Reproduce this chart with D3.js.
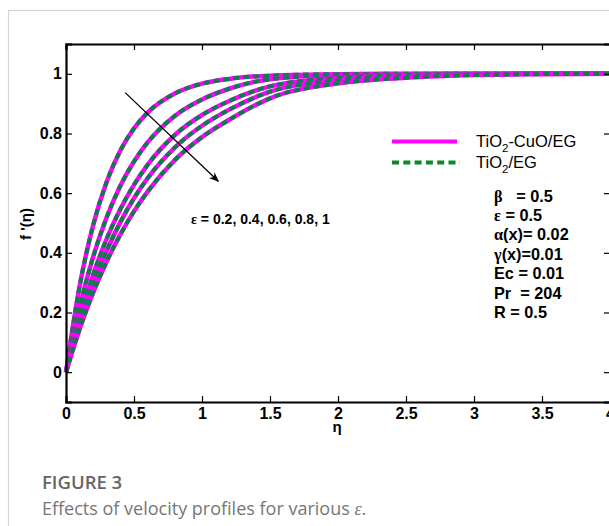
<!DOCTYPE html>
<html><head><meta charset="utf-8">
<script src="https://cdn.jsdelivr.net/npm/d3@7"></script>
<style>body{margin:0;background:#fff}svg{display:block}</style>
</head><body>
<svg id="c" width="609" height="526"></svg>
<script>
// ---- data ----
const eta = [0, 0.1, 0.2, 0.3, 0.4, 0.5, 0.6, 0.8, 1.0, 1.2, 1.5, 2.0, 2.5, 3.0, 3.5, 4.0];
const epsLabels = ["0.2", "0.4", "0.6", "0.8", "1"];
const fEps02 = [0, 0.288, 0.493, 0.639, 0.743, 0.817, 0.870, 0.934, 0.967, 0.983, 0.994, 0.999, 1.0, 1.0, 1.0, 1.0];
const fEps04 = [0, 0.217, 0.387, 0.520, 0.625, 0.706, 0.770, 0.859, 0.914, 0.950, 0.982, 0.996, 0.999, 1.0, 1.0, 1.0];
const fEps06 = [0, 0.180, 0.327, 0.448, 0.547, 0.628, 0.695, 0.795, 0.862, 0.909, 0.958, 0.986, 0.995, 0.999, 1.0, 1.0];
const fEps08 = [0, 0.161, 0.295, 0.408, 0.503, 0.583, 0.650, 0.753, 0.826, 0.880, 0.940, 0.978, 0.992, 0.998, 1.0, 1.0];
const fEps10 = [0, 0.144, 0.267, 0.372, 0.462, 0.539, 0.605, 0.711, 0.788, 0.846, 0.918, 0.968, 0.987, 0.996, 0.999, 1.0];
const seriesNames = ["TiO2-CuO/EG", "TiO2/EG"];
const xTicks = [0, 0.5, 1, 1.5, 2, 2.5, 3, 3.5, 4];
const yTicks = [0, 0.2, 0.4, 0.6, 0.8, 1];
const params = [["β", "   = 0.5"], ["ε", " = 0.5"], ["α", "(x)= 0.02"], ["γ", "(x)=0.01"], ["", "Ec = 0.01"], ["", "Pr  = 204"], ["", "R = 0.5"]];

const curves = [fEps02, fEps04, fEps06, fEps08, fEps10];

const svg = d3.select("#c");
const SANS = "'Liberation Sans', Arial, sans-serif";
const SERIF = "'Liberation Serif', 'DejaVu Serif', serif";

// card border
svg.append("rect").attr("x", 8.5).attr("y", 10.5).attr("width", 700).attr("height", 600)
  .attr("fill", "none").attr("stroke", "#d4d4d4").attr("stroke-width", 1.2);

const L = 66, R = 610, T = 44, B = 402;
const x = d3.scaleLinear().domain([0, 4]).range([L, R]);
const y = d3.scaleLinear().domain([-0.1, 1.1]).range([B, T]);

const line = d3.line().x((d, i) => x(eta[i])).y(d => y(d)).curve(d3.curveMonotoneX);

const g = svg.append("g");
// curves: magenta solid with green dashed overlay
curves.forEach(c => {
  g.append("path").attr("d", line(c)).attr("fill", "none")
    .attr("stroke", "#ff00ff").attr("stroke-width", 4.5);
  g.append("path").attr("d", line(c)).attr("fill", "none")
    .attr("stroke", "#0a7d4a").attr("stroke-width", 4).attr("stroke-dasharray", "6,4");
});

// axes (MATLAB box, inward ticks)
const axB = svg.append("g").attr("transform", `translate(0,${B})`)
  .call(d3.axisBottom(x).tickValues(xTicks).tickSize(-6).tickPadding(6).tickFormat(d3.format("")));
const axT = svg.append("g").attr("transform", `translate(0,${T})`)
  .call(d3.axisTop(x).tickValues(xTicks).tickSize(-6).tickFormat(""));
const axL = svg.append("g").attr("transform", `translate(${L},0)`)
  .call(d3.axisLeft(y).tickValues(yTicks).tickSize(-6).tickPadding(4).tickFormat(d3.format("")));
const axR = svg.append("g").attr("transform", `translate(${R},0)`)
  .call(d3.axisRight(y).tickValues(yTicks).tickSize(-6).tickFormat(""));
[axB, axT, axL, axR].forEach(a => {
  a.select(".domain").attr("stroke", "#000").attr("stroke-width", 2.2);
  a.selectAll(".tick line").attr("stroke", "#000").attr("stroke-width", 1.2);
  a.selectAll("text").attr("font-family", SANS).attr("font-weight", "bold")
    .attr("font-size", 16).attr("fill", "#000");
});

// axis titles
svg.append("text").attr("x", 337).attr("y", 432).attr("text-anchor", "middle")
  .attr("font-family", SANS).attr("font-weight", "bold").attr("font-size", 15).text("η");
svg.append("text").attr("transform", "translate(31,224) rotate(-90)").attr("text-anchor", "middle")
  .attr("font-family", SANS).attr("font-weight", "bold").attr("font-size", 15).text("f '(η)");

// arrow
svg.append("defs").append("marker").attr("id", "ah").attr("viewBox", "0 0 10 10")
  .attr("refX", 9).attr("refY", 5).attr("markerWidth", 10).attr("markerHeight", 10)
  .attr("markerUnits", "userSpaceOnUse").attr("orient", "auto")
  .append("path").attr("d", "M0,1 L10,5 L0,9 L3,5 Z").attr("fill", "#000");
svg.append("line").attr("x1", x(0.435)).attr("y1", y(0.937)).attr("x2", x(1.12)).attr("y2", y(0.64))
  .attr("stroke", "#000").attr("stroke-width", 1.3).attr("marker-end", "url(#ah)");

// eps label
const et = svg.append("text").attr("x", 191).attr("y", 224)
  .attr("font-family", SANS).attr("font-weight", "bold").attr("font-size", 14);
et.append("tspan").attr("font-family", SERIF).text("ε");
et.append("tspan").text(" = " + epsLabels.join(", "));

// legend
const lg = svg.append("g");
lg.append("line").attr("x1", 392).attr("x2", 457).attr("y1", 141.5).attr("y2", 141.5)
  .attr("stroke", "#ff00ff").attr("stroke-width", 4);
lg.append("line").attr("x1", 392).attr("x2", 460).attr("y1", 162.5).attr("y2", 162.5)
  .attr("stroke", "#0a8a2a").attr("stroke-width", 4).attr("stroke-dasharray", "7,4.3");
function legText(yy, name) {
  const t = lg.append("text").attr("x", 476).attr("y", yy).attr("font-family", SANS).attr("font-size", 16.5);
  const i = name.indexOf("2");
  t.append("tspan").text(name.slice(0, i));
  t.append("tspan").attr("font-size", 11.5).attr("dy", 5).text("2");
  t.append("tspan").attr("dy", -5).text(name.slice(i + 1));
}
legText(147, seriesNames[0]);
legText(168, seriesNames[1]);

// parameters
params.forEach((p, i) => {
  const t = svg.append("text").attr("x", 494).attr("y", 201.5 + i * 19.4)
    .attr("font-family", SANS).attr("font-weight", "bold").attr("font-size", 16.3).attr("xml:space", "preserve");
  if (p[0]) t.append("tspan").attr("font-family", SERIF).text(p[0]);
  t.append("tspan").text(p[1]);
});

// caption
svg.append("text").attr("x", 42).attr("y", 488.5).attr("font-family", "'Open Sans', sans-serif")
  .attr("font-size", 18.5).attr("font-weight", 600).attr("fill", "#666").text("FIGURE 3");
const cap = svg.append("text").attr("x", 42).attr("y", 515).attr("font-family", "'Open Sans', sans-serif")
  .attr("font-size", 18).attr("fill", "#777");
cap.append("tspan").text("Effects of velocity profiles for various ");
cap.append("tspan").attr("font-family", SERIF).attr("font-style", "italic").text("ε");
cap.append("tspan").text(".");
</script>
</body></html>
